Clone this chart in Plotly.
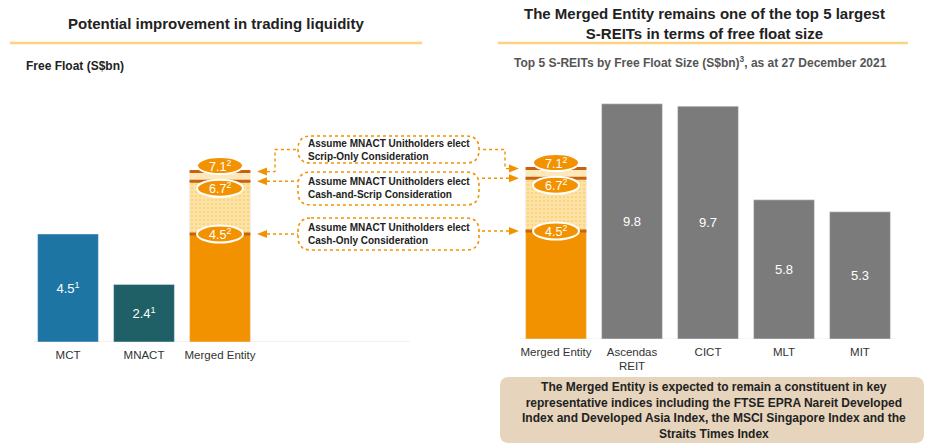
import plotly.graph_objects as go

W, H = 931, 444
FONT = "Liberation Sans, Arial, sans-serif"

# ---------------- data ----------------
left_cats = ["MCT", "MNACT", "Merged Entity"]
left_vals = [4.5, 2.4, 4.5]
left_labels = ["4.5<sup>1</sup>", "2.4<sup>1</sup>", ""]

merged_scenarios = [4.5, 6.7, 7.1]
scenario_labels = ["4.5<sup>2</sup>", "6.7<sup>2</sup>", "7.1<sup>2</sup>"]
scenario_boxes = [
    "Assume MNACT Unitholders elect<br>Cash-Only Consideration",
    "Assume MNACT Unitholders elect<br>Cash-and-Scrip Consideration",
    "Assume MNACT Unitholders elect<br>Scrip-Only Consideration",
]

right_cats = ["Merged Entity", "Ascendas<br>REIT", "CICT", "MLT", "MIT"]
right_vals = [4.5, 9.8, 9.7, 5.8, 5.3]
right_labels = ["", "9.8", "9.7", "5.8", "5.3"]

# ---------------- styles ----------------
ORANGE = "#F39200"
DARK_OR = "#C8620E"
LIGHT1 = "#FDE3A6"
LIGHT2 = "#FCE8B8"
left_colors = ["#1C75A3", "#1F5F66", ORANGE]
right_colors = [ORANGE, "#7B7B7B", "#7B7B7B", "#7B7B7B", "#7B7B7B"]

# pixel layout of the two panels
L_BASE, R_BASE, SCALE = 342, 339, 24.0

def px(x):
    return x / W

def py(y):
    return 1 - y / H

fig = go.Figure()

# left panel bars
fig.add_bar(x=left_cats, y=left_vals, marker_color=left_colors, width=0.8,
            text=left_labels, textposition="inside", insidetextanchor="middle",
            textfont=dict(color="white", size=13, family=FONT),
            xaxis="x", yaxis="y", hoverinfo="skip")
fig.add_bar(x=[left_cats[2]], y=[merged_scenarios[1] - merged_scenarios[0]],
            base=[merged_scenarios[0]], width=0.8,
            marker=dict(color=LIGHT1, pattern=dict(shape=".", fgcolor="#F6C664",
                                                   bgcolor=LIGHT1, size=4, solidity=0.35)),
            xaxis="x", yaxis="y", hoverinfo="skip")
fig.add_bar(x=[left_cats[2]], y=[merged_scenarios[2] - merged_scenarios[1]],
            base=[merged_scenarios[1]], width=0.8, marker_color=LIGHT2,
            xaxis="x", yaxis="y", hoverinfo="skip")

# right panel bars
fig.add_bar(x=right_cats, y=right_vals, marker_color=right_colors, width=0.8,
            text=right_labels, textposition="inside", insidetextanchor="middle",
            textfont=dict(color="white", size=13, family=FONT),
            xaxis="x2", yaxis="y2", hoverinfo="skip")
fig.add_bar(x=[right_cats[0]], y=[merged_scenarios[1] - merged_scenarios[0]],
            base=[merged_scenarios[0]], width=0.8,
            marker=dict(color=LIGHT1, pattern=dict(shape=".", fgcolor="#F6C664",
                                                   bgcolor=LIGHT1, size=4, solidity=0.35)),
            xaxis="x2", yaxis="y2", hoverinfo="skip")
fig.add_bar(x=[right_cats[0]], y=[merged_scenarios[2] - merged_scenarios[1]],
            base=[merged_scenarios[1]], width=0.8, marker_color=LIGHT2,
            xaxis="x2", yaxis="y2", hoverinfo="skip")

shapes = []
annots = []

# baselines
shapes.append(dict(type="line", xref="paper", yref="y", x0=px(33), x1=px(410), y0=0, y1=0,
                   line=dict(color="#E4E4E4", width=1), layer="below"))
shapes.append(dict(type="line", xref="paper", yref="y2", x0=px(520), x1=px(895), y0=0, y1=0,
                   line=dict(color="#F0F0F0", width=1), layer="below"))

# scenario markers on both merged bars
offsets = [0, -7, 6]
for (xr, yr, xi) in [("x", "y", 2), ("x2", "y2", 0)]:
    for v in merged_scenarios:
        shapes.append(dict(type="line", xref=xr, yref=yr, x0=xi - 0.4, x1=xi + 0.4,
                           y0=v, y1=v, line=dict(color=DARK_OR, width=3)))
    for v, lab, off in zip(merged_scenarios, scenario_labels, offsets):
        shapes.append(dict(type="circle", xref=xr, yref=yr, xsizemode="pixel",
                           ysizemode="pixel", xanchor=xi, yanchor=v,
                           x0=-23, x1=23, y0=off - 8.5, y1=off + 8.5,
                           fillcolor=ORANGE, line=dict(color="white", width=2)))
        annots.append(dict(xref=xr, yref=yr, x=xi, y=v, yshift=off, text=lab,
                           showarrow=False, font=dict(color="white", size=12.5, family=FONT)))

# rounded rectangles
def rrect(x0, y0, x1, y1, r):
    pts = [("M", [(x0 + r, y0)]), ("L", [(x1 - r, y0)]), ("Q", [(x1, y0), (x1, y0 + r)]),
           ("L", [(x1, y1 - r)]), ("Q", [(x1, y1), (x1 - r, y1)]), ("L", [(x0 + r, y1)]),
           ("Q", [(x0, y1), (x0, y1 - r)]), ("L", [(x0, y0 + r)]), ("Q", [(x0, y0), (x0 + r, y0)])]
    s = ""
    for cmd, ps in pts:
        s += cmd + " " + " ".join(f"{px(a):.5f},{py(b):.5f}" for a, b in ps) + " "
    return s + "Z"

BOX_L, BOX_R = 298, 479
box_y = [(218, 250), (172, 205), (136, 163)]  # cash-only, cash-and-scrip, scrip-only
for (y0, y1), txt in zip(box_y, scenario_boxes):
    shapes.append(dict(type="path", xref="paper", yref="paper", path=rrect(BOX_L, y0, BOX_R, y1, 13),
                       fillcolor="white", line=dict(color=ORANGE, width=1.6, dash="dot")))
    annots.append(dict(xref="paper", yref="paper", x=px(306), y=py((y0 + y1) / 2),
                       xanchor="left", yanchor="middle", align="left", showarrow=False,
                       text="<b>" + txt + "</b>", font=dict(size=10, color="#222", family=FONT)))

# connectors + arrowheads (x in paper, y on the data axes)
L_TIP, R_TIP = 257, 519
for i, v in enumerate(merged_scenarios):
    mid = (box_y[i][0] + box_y[i][1]) / 2
    dy_l = (L_BASE - v * SCALE) - mid
    dy_r = (R_BASE - v * SCALE) - mid
    shapes.append(dict(type="path", xref="paper", yref="y", xsizemode="pixel", ysizemode="pixel",
                       xanchor=px(L_TIP), yanchor=v, path="M 0 0 L 10 4 L 10 -4 Z",
                       fillcolor=ORANGE, line=dict(width=0)))
    shapes.append(dict(type="path", xref="paper", yref="y2", xsizemode="pixel", ysizemode="pixel",
                       xanchor=px(R_TIP), yanchor=v, path="M 0 0 L -10 4 L -10 -4 Z",
                       fillcolor=ORANGE, line=dict(width=0)))
    if abs(dy_l) > 8:
        pl = f"M 10 0 L 18 0 L 18 {dy_l:.1f} L {BOX_L - L_TIP} {dy_l:.1f}"
        pr = f"M -10 0 L -14 0 L -14 {dy_r:.1f} L {BOX_R - R_TIP} {dy_r:.1f}"
    else:
        pl = f"M 10 0 L {BOX_L - L_TIP} 0"
        pr = f"M -10 0 L {BOX_R - R_TIP} 0"
    shapes.append(dict(type="path", xref="paper", yref="y", xsizemode="pixel", ysizemode="pixel",
                       xanchor=px(L_TIP), yanchor=v, path=pl,
                       line=dict(color=ORANGE, width=1.4, dash="dot")))
    shapes.append(dict(type="path", xref="paper", yref="y2", xsizemode="pixel", ysizemode="pixel",
                       xanchor=px(R_TIP), yanchor=v, path=pr,
                       line=dict(color=ORANGE, width=1.4, dash="dot")))

# title underlines
shapes.append(dict(type="line", xref="paper", yref="paper", x0=px(10), x1=px(422),
                   y0=py(43), y1=py(43), line=dict(color="#FBD383", width=2.5)))
shapes.append(dict(type="line", xref="paper", yref="paper", x0=px(498), x1=px(908),
                   y0=py(43), y1=py(43), line=dict(color="#FBD383", width=2.5)))

# bottom note box
shapes.append(dict(type="path", xref="paper", yref="paper", path=rrect(500, 377, 924, 443, 9),
                   fillcolor="#E6D4BC", line=dict(width=0)))
annots.append(dict(xref="paper", yref="paper", x=px(714), y=py(410), xanchor="center",
                   yanchor="middle", showarrow=False, align="center",
                   text="<b>The Merged Entity is expected to remain a constituent in key<br>"
                        "representative indices including the FTSE EPRA Nareit Developed<br>"
                        "Index and Developed Asia Index, the MSCI Singapore Index and the<br>"
                        "Straits Times Index</b>",
                   font=dict(size=12, color="#222", family=FONT)))

# titles
annots.append(dict(xref="paper", yref="paper", x=px(216), y=py(23), xanchor="center",
                   yanchor="middle", showarrow=False,
                   text="<b>Potential improvement in trading liquidity</b>",
                   font=dict(size=15, color="#222", family=FONT)))
annots.append(dict(xref="paper", yref="paper", x=px(704), y=py(23), xanchor="center",
                   yanchor="middle", showarrow=False,
                   text="<b>The Merged Entity remains one of the top 5 largest<br>S-REITs in terms of free float size</b>",
                   font=dict(size=15, color="#222", family=FONT)))
annots.append(dict(xref="paper", yref="paper", x=px(24), y=py(66), xanchor="left",
                   yanchor="middle", showarrow=False, text="<b>Free Float (S$bn)</b>",
                   font=dict(size=12, color="#222", family=FONT)))
annots.append(dict(xref="paper", yref="paper", x=px(700), y=py(62), xanchor="center",
                   yanchor="middle", showarrow=False,
                   text="<b>Top 5 S-REITs by Free Float Size (S$bn)<sup>3</sup>, as at 27 December 2021</b>",
                   font=dict(size=12, color="#555", family=FONT)))

axis_common = dict(type="category", showgrid=False, zeroline=False, showline=False, ticks="",
                   ticklabelstandoff=4,
                   tickfont=dict(size=11.5, color="#333", family=FONT), fixedrange=True)

fig.update_layout(
    width=W, height=H, autosize=False,
    margin=dict(l=0, r=0, t=0, b=0),
    paper_bgcolor="white", plot_bgcolor="rgba(0,0,0,0)",
    barmode="overlay", showlegend=False,
    font=dict(family=FONT),
    xaxis=dict(domain=[px(30), px(258)], range=[-0.5, 2.5], anchor="y", **axis_common),
    yaxis=dict(domain=[py(L_BASE), py(L_BASE - 10 * SCALE)], range=[0, 10], visible=False),
    xaxis2=dict(domain=[px(518), px(898)], range=[-0.5, 4.5], anchor="y2", **axis_common),
    yaxis2=dict(domain=[py(R_BASE), py(R_BASE - 10 * SCALE)], range=[0, 10], visible=False),
    shapes=shapes, annotations=annots,
)

fig.write_html("out.html", config={"displayModeBar": False},
               post_script="document.body.style.margin='0px';document.body.style.overflow='hidden';")
